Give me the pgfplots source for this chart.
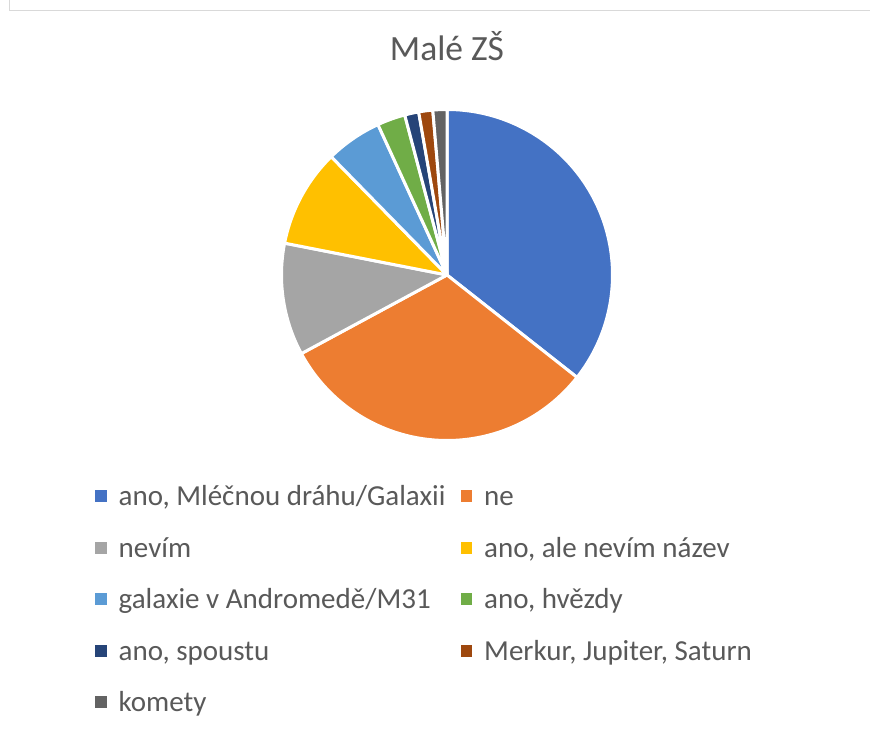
\documentclass[border=0pt]{standalone}
\usepackage{fontspec}
\setmainfont{Carlito}
\usepackage{pgfplots}
\usepackage{pgfplotstable}
\pgfplotsset{compat=1.18}
\definecolor{txt}{HTML}{595959}
\definecolor{frame}{HTML}{D9D9D9}
\definecolor{slice0}{HTML}{4472C4}
\definecolor{slice1}{HTML}{ED7D31}
\definecolor{slice2}{HTML}{A5A5A5}
\definecolor{slice3}{HTML}{FFC000}
\definecolor{slice4}{HTML}{5B9BD5}
\definecolor{slice5}{HTML}{70AD47}
\definecolor{slice6}{HTML}{264478}
\definecolor{slice7}{HTML}{9E480E}
\definecolor{slice8}{HTML}{636363}
\pgfplotstableread{
idx value
0 26
1 23
2 8
3 7
4 4
5 2
6 1
7 1
8 1
}\piedata
\newcommand\legtxt[1]{\makebox[342bp][l]{\rule[-5bp]{0pt}{29bp}\smash{#1}}}
\begin{document}
\begin{tikzpicture}[x=1bp,y=1bp]
\useasboundingbox (0,0) rectangle (870,733);
\fill[white] (0,0) rectangle (870,733);
\draw[frame, line width=1.5bp] (9.5,740) -- (9.5,722.5) -- (880,722.5);
% cumulative sums
\xdef\cumA{0}
\foreach \i in {0,...,8}{%
  \pgfplotstablegetelem{\i}{value}\of\piedata
  \pgfmathsetmacro\newcum{\cumA+\pgfplotsretval}%
  \expandafter\xdef\csname cum\i\endcsname{\newcum}%
  \xdef\cumA{\newcum}%
}
\xdef\total{\cumA}
\begin{axis}[
  at={(447bp,458bp)}, anchor=center,
  scale only axis, width=331bp, height=331bp,
  xmin=-1, xmax=1, ymin=-1, ymax=1,
  hide axis, clip=false,
  title={Malé ZŠ},
  title style={font=\fontsize{35.5bp}{40bp}\selectfont, text=txt, anchor=base, at={(0.5,1)}, yshift=43.5bp, inner sep=0pt},
  legend columns=2,
  legend image code/.code={\fill[#1,draw=none] (0bp,-6bp) rectangle (11.7bp,6bp); \path (22bp,0bp);},
  legend style={at={(-0.56344,-0.12387)}, anchor=north west, draw=none, fill=none,
    inner sep=0pt, column sep=0pt, row sep=22.5bp,
    cells={anchor=west}, nodes={inner sep=0pt, text depth=},
    font=\fontsize{29bp}{34bp}\selectfont, text=txt},
  legend entries={\legtxt{ano, Mléčnou dráhu/Galaxii},\legtxt{ne},\legtxt{nevím},\legtxt{ano, ale nevím název},\legtxt{galaxie v Andromedě/M31},\legtxt{ano, hvězdy},\legtxt{ano, spoustu},\legtxt{Merkur, Jupiter, Saturn},\legtxt{komety}},
]
\pgfplotsinvokeforeach{0,...,8}{%
  \pgfmathtruncatemacro\prev{#1-1}%
  \ifnum#1=0 \def\pc{0}\else\edef\pc{\csname cum\prev\endcsname}\fi
  \edef\cc{\csname cum#1\endcsname}%
  \pgfmathsetmacro\ta{90-(\cc/\total)*360}%
  \pgfmathsetmacro\tb{90-(\pc/\total)*360}%
  \addplot[fill=slice#1, draw=white, line width=3bp, line join=round, domain=\ta:\tb, samples=120] ({cos(x)},{sin(x)}) -- (0,0) -- cycle;
}
\end{axis}
\end{tikzpicture}
\end{document}
